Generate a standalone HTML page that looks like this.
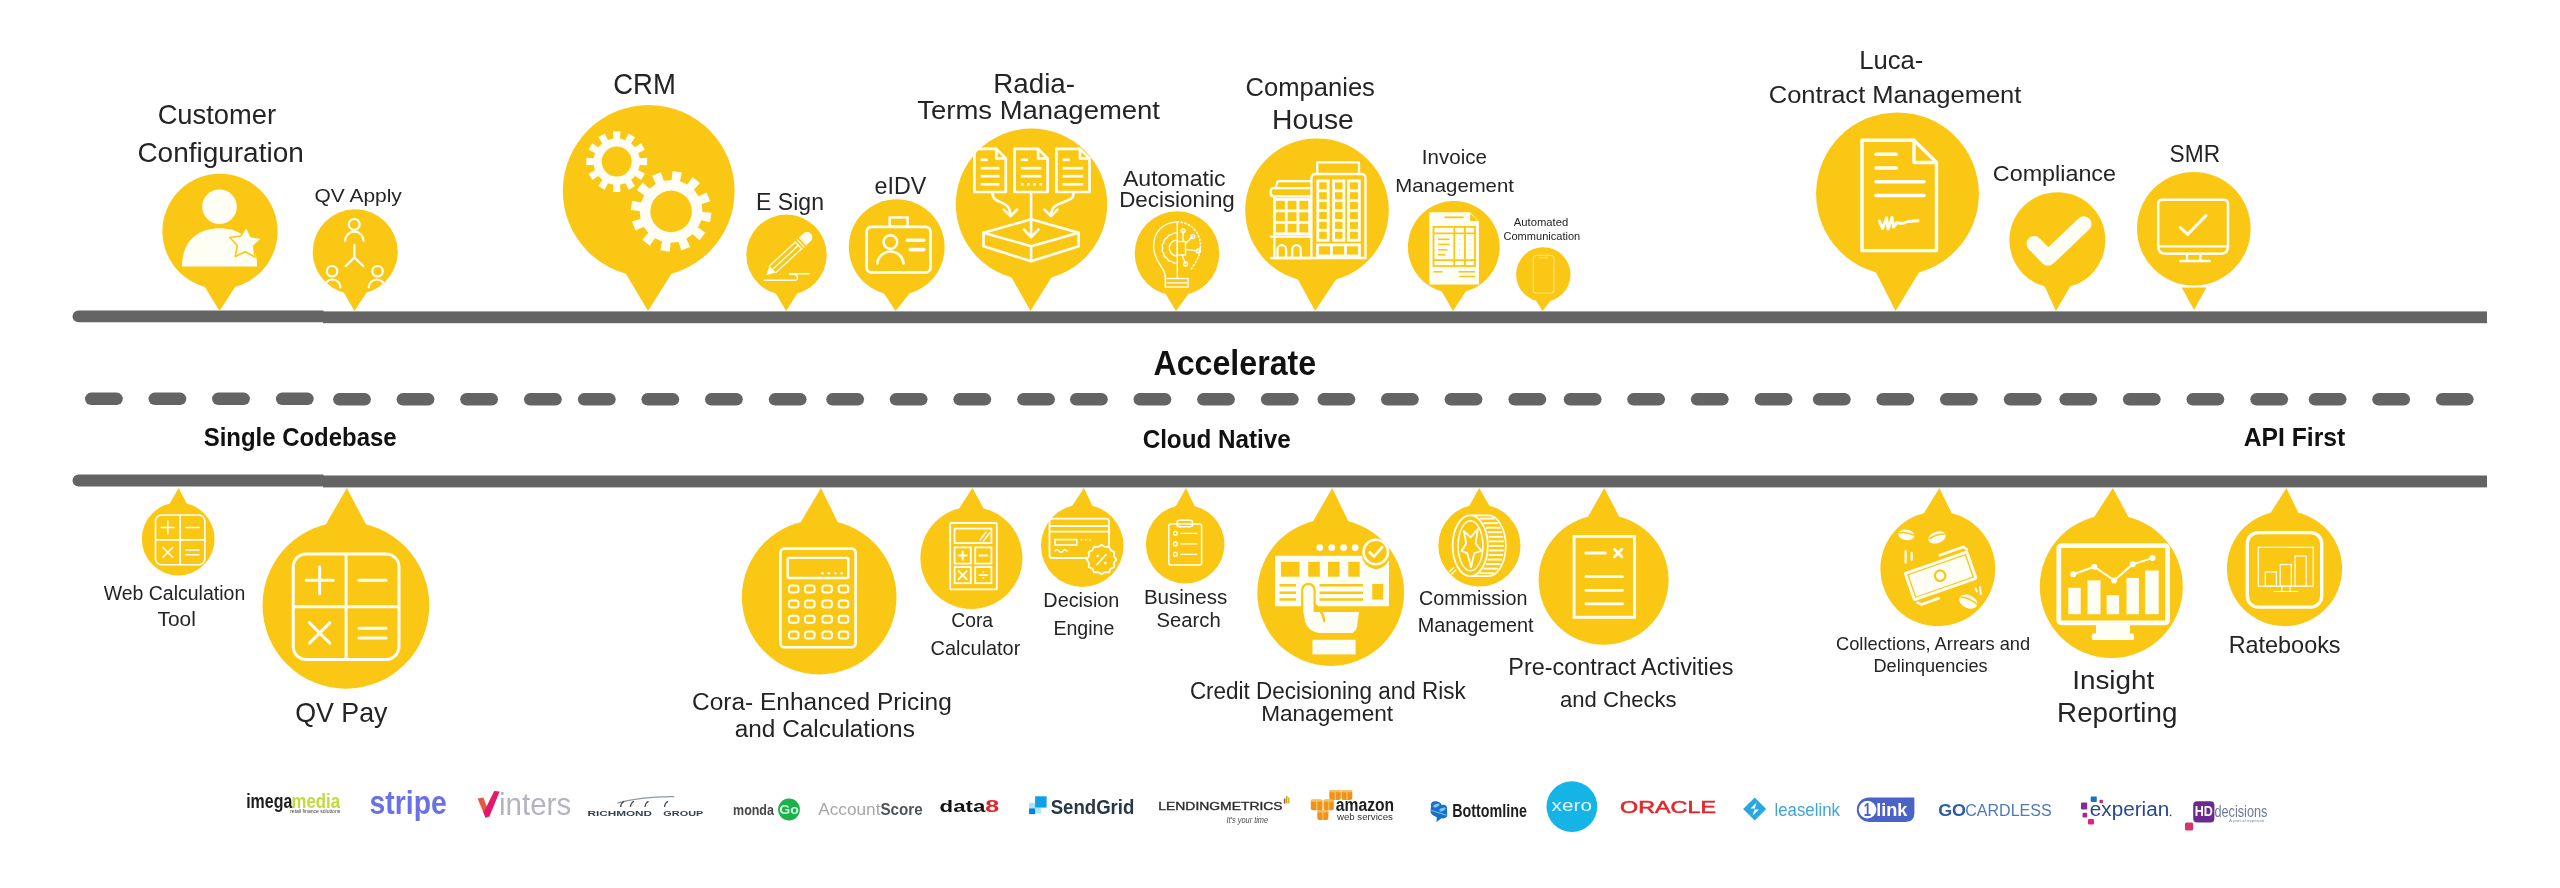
<!DOCTYPE html>
<html><head><meta charset="utf-8"><title>Accelerate roadmap</title>
<style>
html,body{margin:0;padding:0;background:#fff;}
body{width:2560px;height:888px;overflow:hidden;}
svg{display:block;font-family:"Liberation Sans",sans-serif;will-change:transform;}
</style></head><body>
<svg width="2560" height="888" viewBox="0 0 2560 888">
<rect width="2560" height="888" fill="#fff"/>
<path d="M78.40,310.50 H323.50 V322.30 H78.40 A5.90,5.90 0 0 1 78.40,310.50 Z" fill="#646464"/>
<rect x="323.00" y="311.40" width="2164.00" height="11.80" fill="#646464"/>
<path d="M78.40,474.60 H323.50 V486.40 H78.40 A5.90,5.90 0 0 1 78.40,474.60 Z" fill="#646464"/>
<rect x="323.00" y="475.50" width="2164.00" height="11.90" fill="#646464"/>
<rect x="85.00" y="392.6" width="37.8" height="12.4" rx="6.2" fill="#646464"/>
<rect x="148.50" y="392.6" width="37.8" height="12.4" rx="6.2" fill="#646464"/>
<rect x="212.10" y="392.6" width="37.8" height="12.4" rx="6.2" fill="#646464"/>
<rect x="275.90" y="392.6" width="37.8" height="12.4" rx="6.2" fill="#646464"/>
<rect x="333.10" y="393.1" width="37.8" height="12.4" rx="6.2" fill="#646464"/>
<rect x="396.60" y="393.1" width="37.8" height="12.4" rx="6.2" fill="#646464"/>
<rect x="460.20" y="393.1" width="37.8" height="12.4" rx="6.2" fill="#646464"/>
<rect x="524.00" y="393.1" width="37.8" height="12.4" rx="6.2" fill="#646464"/>
<rect x="577.90" y="393.1" width="37.8" height="12.4" rx="6.2" fill="#646464"/>
<rect x="641.40" y="393.1" width="37.8" height="12.4" rx="6.2" fill="#646464"/>
<rect x="705.00" y="393.1" width="37.8" height="12.4" rx="6.2" fill="#646464"/>
<rect x="768.80" y="393.1" width="37.8" height="12.4" rx="6.2" fill="#646464"/>
<rect x="826.25" y="393.1" width="37.8" height="12.4" rx="6.2" fill="#646464"/>
<rect x="889.75" y="393.1" width="37.8" height="12.4" rx="6.2" fill="#646464"/>
<rect x="953.35" y="393.1" width="37.8" height="12.4" rx="6.2" fill="#646464"/>
<rect x="1017.15" y="393.1" width="37.8" height="12.4" rx="6.2" fill="#646464"/>
<rect x="1070.00" y="393.1" width="37.8" height="12.4" rx="6.2" fill="#646464"/>
<rect x="1133.50" y="393.1" width="37.8" height="12.4" rx="6.2" fill="#646464"/>
<rect x="1197.10" y="393.1" width="37.8" height="12.4" rx="6.2" fill="#646464"/>
<rect x="1260.90" y="393.1" width="37.8" height="12.4" rx="6.2" fill="#646464"/>
<rect x="1317.50" y="393.1" width="37.8" height="12.4" rx="6.2" fill="#646464"/>
<rect x="1381.00" y="393.1" width="37.8" height="12.4" rx="6.2" fill="#646464"/>
<rect x="1444.60" y="393.1" width="37.8" height="12.4" rx="6.2" fill="#646464"/>
<rect x="1508.40" y="393.1" width="37.8" height="12.4" rx="6.2" fill="#646464"/>
<rect x="1563.75" y="393.1" width="37.8" height="12.4" rx="6.2" fill="#646464"/>
<rect x="1627.25" y="393.1" width="37.8" height="12.4" rx="6.2" fill="#646464"/>
<rect x="1690.85" y="393.1" width="37.8" height="12.4" rx="6.2" fill="#646464"/>
<rect x="1754.65" y="393.1" width="37.8" height="12.4" rx="6.2" fill="#646464"/>
<rect x="1812.90" y="393.1" width="37.8" height="12.4" rx="6.2" fill="#646464"/>
<rect x="1876.40" y="393.1" width="37.8" height="12.4" rx="6.2" fill="#646464"/>
<rect x="1940.00" y="393.1" width="37.8" height="12.4" rx="6.2" fill="#646464"/>
<rect x="2003.80" y="393.1" width="37.8" height="12.4" rx="6.2" fill="#646464"/>
<rect x="2059.40" y="393.1" width="37.8" height="12.4" rx="6.2" fill="#646464"/>
<rect x="2122.90" y="393.1" width="37.8" height="12.4" rx="6.2" fill="#646464"/>
<rect x="2186.50" y="393.1" width="37.8" height="12.4" rx="6.2" fill="#646464"/>
<rect x="2250.30" y="393.1" width="37.8" height="12.4" rx="6.2" fill="#646464"/>
<rect x="2308.75" y="393.1" width="37.8" height="12.4" rx="6.2" fill="#646464"/>
<rect x="2372.25" y="393.1" width="37.8" height="12.4" rx="6.2" fill="#646464"/>
<rect x="2435.85" y="393.1" width="37.8" height="12.4" rx="6.2" fill="#646464"/>
<ellipse cx="220.00" cy="231.30" rx="57.60" ry="57.60" fill="#FAC814"/>
<path d="M204.74,286.84 L219.50,311.00 L235.26,286.84 L220.00,231.30 Z" fill="#FAC814"/>
<circle cx="219.5" cy="206.7" r="17.3" fill="#FFFEF4"/><path d="M182,266.6 C182,240 199,228.3 219.5,228.3 C240,228.3 257.1,240 257.1,266.6 Z" fill="#FFFEF4"/><path d="M246.19,226.41 L250.89,236.42 L261.75,238.57 L253.68,246.14 L254.99,257.13 L245.30,251.79 L235.26,256.44 L237.33,245.57 L229.81,237.45 L240.79,236.07 Z" fill="#FFFEF4" stroke="#FAC814" stroke-width="1.6" stroke-linejoin="round"/>
<ellipse cx="355.20" cy="251.70" rx="42.50" ry="42.50" fill="#FAC814"/>
<path d="M343.94,292.68 L354.50,311.00 L366.46,292.68 L355.20,251.70 Z" fill="#FAC814"/>
<circle cx="354.2" cy="224.4" r="5.4" fill="none" stroke="#FFFEF4" stroke-width="2.2"/><path d="M345.0,241.0 A9.300000000000011,9.300000000000011 0 0 1 363.6,241.0" fill="none" stroke="#FFFEF4" stroke-width="2.2" stroke-linecap="round" stroke-linejoin="round"/><path d="M354.4,244.8 V257.5 M345.8,266 L354.4,257.5 L363.3,266" fill="none" stroke="#FFFEF4" stroke-width="2.2" stroke-linecap="round" stroke-linejoin="round"/><circle cx="332.1" cy="271.2" r="5.2" fill="none" stroke="#FFFEF4" stroke-width="2.2"/><path d="M324.4,287.5 A8.0,8.0 0 0 1 340.4,287.5" fill="none" stroke="#FFFEF4" stroke-width="2.2" stroke-linecap="round" stroke-linejoin="round"/><circle cx="377.6" cy="271.2" r="5.2" fill="none" stroke="#FFFEF4" stroke-width="2.2"/><path d="M368.8,287.5 A8.0,8.0 0 0 1 384.8,287.5" fill="none" stroke="#FFFEF4" stroke-width="2.2" stroke-linecap="round" stroke-linejoin="round"/>
<ellipse cx="648.70" cy="190.90" rx="85.90" ry="85.90" fill="#FAC814"/>
<path d="M625.94,273.73 L648.00,311.00 L671.46,273.73 L648.70,190.90 Z" fill="#FAC814"/>
<path d="M613.41,138.53 L612.94,131.23 L620.46,131.23 L619.99,138.53 L625.39,139.98 L628.63,133.42 L635.14,137.18 L631.08,143.27 L635.03,147.22 L641.12,143.16 L644.88,149.67 L638.32,152.91 L639.77,158.31 L647.07,157.84 L647.07,165.36 L639.77,164.89 L638.32,170.29 L644.88,173.53 L641.12,180.04 L635.03,175.98 L631.08,179.93 L635.14,186.02 L628.63,189.78 L625.39,183.22 L619.99,184.67 L620.46,191.97 L612.94,191.97 L613.41,184.67 L608.01,183.22 L604.77,189.78 L598.26,186.02 L602.32,179.93 L598.37,175.98 L592.28,180.04 L588.52,173.53 L595.08,170.29 L593.63,164.89 L586.33,165.36 L586.33,157.84 L593.63,158.31 L595.08,152.91 L588.52,149.67 L592.28,143.16 L598.37,147.22 L602.32,143.27 L598.26,137.18 L604.77,133.42 L608.01,139.98 Z M631.70,161.60 A15.0,15.0 0 1 0 601.70,161.60 A15.0,15.0 0 1 0 631.70,161.60 Z" fill="#FFFEF4" fill-rule="evenodd"/><path d="M671.61,180.00 L672.47,171.02 L681.86,172.46 L680.00,181.29 L687.24,184.47 L692.48,177.12 L699.89,183.06 L693.86,189.77 L698.55,196.15 L706.75,192.40 L710.20,201.25 L701.63,204.05 L702.50,211.91 L711.48,212.77 L710.04,222.16 L701.21,220.30 L698.03,227.54 L705.38,232.78 L699.44,240.19 L692.73,234.16 L686.35,238.85 L690.10,247.05 L681.25,250.50 L678.45,241.93 L670.59,242.80 L669.73,251.78 L660.34,250.34 L662.20,241.51 L654.96,238.33 L649.72,245.68 L642.31,239.74 L648.34,233.03 L643.65,226.65 L635.45,230.40 L632.00,221.55 L640.57,218.75 L639.70,210.89 L630.72,210.03 L632.16,200.64 L640.99,202.50 L644.17,195.26 L636.82,190.02 L642.76,182.61 L649.47,188.64 L655.85,183.95 L652.10,175.75 L660.95,172.30 L663.75,180.87 Z M691.90,211.40 A20.8,20.8 0 1 0 650.30,211.40 A20.8,20.8 0 1 0 691.90,211.40 Z" fill="#FFFEF4" fill-rule="evenodd"/>
<ellipse cx="786.50" cy="254.80" rx="40.20" ry="40.20" fill="#FAC814"/>
<path d="M775.85,293.56 L786.20,311.00 L797.15,293.56 L786.50,254.80 Z" fill="#FAC814"/>
<g transform="translate(766.2,275.3) rotate(-42.9)"><path d="M0,0 L9,-4.6 L9,4.6 Z" fill="#FFFEF4"/><path d="M9,-4.6 L44,-4.6 M9,4.6 L44,4.6 M10,0 L44,0" fill="none" stroke="#FFFEF4" stroke-width="1.3" stroke-linecap="round" stroke-linejoin="round"/><path d="M44,-5 L44,5 M47,-5 L47,5 M50,-5 L50,5" fill="none" stroke="#FFFEF4" stroke-width="1.3" stroke-linecap="round" stroke-linejoin="round"/><path d="M51,-5.2 L56,-5.2 A5.2,5.2 0 0 1 56,5.2 L51,5.2 Z" fill="#FFFEF4"/></g><path d="M764.5,280.2 H795.5 C798.5,280.2 798.5,274.2 793,274.2 L789.5,274.2 M789.5,273.8 H809.5" fill="none" stroke="#FFFEF4" stroke-width="1.4" stroke-linecap="round" stroke-linejoin="round"/>
<ellipse cx="896.70" cy="247.20" rx="47.90" ry="47.90" fill="#FAC814"/>
<path d="M884.01,293.39 L895.60,311.00 L909.39,293.39 L896.70,247.20 Z" fill="#FAC814"/>
<rect x="866.6" y="226.8" width="63.90" height="45.60" rx="5" fill="none" stroke="#FFFEF4" stroke-width="2.8"/><rect x="889.7" y="217.5" width="17.90" height="9.30" rx="0" fill="none" stroke="#FFFEF4" stroke-width="2.4"/><circle cx="890.4" cy="242.0" r="6.8" fill="none" stroke="#FFFEF4" stroke-width="2.5"/><path d="M877.3,263.5 A13.2,13.2 0 0 1 903.6,263.5" fill="none" stroke="#FFFEF4" stroke-width="2.6" stroke-linecap="round" stroke-linejoin="round"/><line x1="907.5" y1="240.3" x2="923.8" y2="240.3" stroke="#FFFEF4" stroke-width="3.6" stroke-linecap="round"/><line x1="910.3" y1="249.6" x2="923.8" y2="249.6" stroke="#FFFEF4" stroke-width="3.6" stroke-linecap="round"/>
<ellipse cx="1031.50" cy="204.30" rx="75.70" ry="75.70" fill="#FAC814"/>
<path d="M1011.44,277.29 L1030.50,311.00 L1051.56,277.29 L1031.50,204.30 Z" fill="#FAC814"/>
<path d="M974.4,148.9 H996.3 L1005.8,158.4 V192.0 H974.4 Z M996.3,148.9 V158.4 H1005.8" fill="none" stroke="#FFFEF4" stroke-width="2.7" stroke-linecap="round" stroke-linejoin="round"/><line x1="980.6999999999999" y1="159.8" x2="987.6999999999999" y2="159.8" stroke="#FFFEF4" stroke-width="2.7" stroke-linecap="butt"/><line x1="980.6999999999999" y1="168.2" x2="999.5" y2="168.2" stroke="#FFFEF4" stroke-width="2.7" stroke-linecap="butt"/><line x1="980.6999999999999" y1="176.2" x2="999.5" y2="176.2" stroke="#FFFEF4" stroke-width="2.7" stroke-linecap="butt"/><line x1="980.6999999999999" y1="184.3" x2="999.5" y2="184.3" stroke="#FFFEF4" stroke-width="2.7" stroke-linecap="butt"/><path d="M1014.6,148.9 H1038.1 L1047.6,158.4 V192.0 H1014.6 Z M1038.1,148.9 V158.4 H1047.6" fill="none" stroke="#FFFEF4" stroke-width="2.7" stroke-linecap="round" stroke-linejoin="round"/><line x1="1020.9" y1="159.8" x2="1027.9" y2="159.8" stroke="#FFFEF4" stroke-width="2.7" stroke-linecap="butt"/><line x1="1020.9" y1="168.2" x2="1041.3" y2="168.2" stroke="#FFFEF4" stroke-width="2.7" stroke-linecap="butt"/><line x1="1020.9" y1="176.2" x2="1041.3" y2="176.2" stroke="#FFFEF4" stroke-width="2.7" stroke-linecap="butt"/><rect x="1020.9" y="183.0" width="2.60" height="2.60" rx="0" fill="#FFFEF4"/><rect x="1027.1" y="183.0" width="2.60" height="2.60" rx="0" fill="#FFFEF4"/><rect x="1033.3" y="183.0" width="2.60" height="2.60" rx="0" fill="#FFFEF4"/><rect x="1039.5" y="183.0" width="2.60" height="2.60" rx="0" fill="#FFFEF4"/><path d="M1056.4,148.9 H1080.0 L1089.5,158.4 V192.0 H1056.4 Z M1080.0,148.9 V158.4 H1089.5" fill="none" stroke="#FFFEF4" stroke-width="2.7" stroke-linecap="round" stroke-linejoin="round"/><line x1="1062.7" y1="159.8" x2="1069.7" y2="159.8" stroke="#FFFEF4" stroke-width="2.7" stroke-linecap="butt"/><line x1="1062.7" y1="168.2" x2="1083.2" y2="168.2" stroke="#FFFEF4" stroke-width="2.7" stroke-linecap="butt"/><line x1="1062.7" y1="176.2" x2="1083.2" y2="176.2" stroke="#FFFEF4" stroke-width="2.7" stroke-linecap="butt"/><line x1="1062.7" y1="184.3" x2="1083.2" y2="184.3" stroke="#FFFEF4" stroke-width="2.7" stroke-linecap="butt"/><path d="M1031.1,192.4 V237" fill="none" stroke="#FFFEF4" stroke-width="2.6" stroke-linecap="round" stroke-linejoin="round"/><path d="M1023.8,229.5 L1031.1,237 L1038.4,229.5" fill="none" stroke="#FFFEF4" stroke-width="2.6" stroke-linecap="round" stroke-linejoin="round"/><path d="M992.4,192.4 C992.4,206 1009.8,198 1010.4,215" fill="none" stroke="#FFFEF4" stroke-width="2.6" stroke-linecap="round" stroke-linejoin="round"/><path d="M1003.9,209.7 L1010.4,216.2 L1017,209.7" fill="none" stroke="#FFFEF4" stroke-width="2.6" stroke-linecap="round" stroke-linejoin="round"/><path d="M1073.7,192.4 C1073.7,206 1051.6,198 1051.0,215" fill="none" stroke="#FFFEF4" stroke-width="2.6" stroke-linecap="round" stroke-linejoin="round"/><path d="M1044.5,209.7 L1051.0,216.2 L1057.5,209.7" fill="none" stroke="#FFFEF4" stroke-width="2.6" stroke-linecap="round" stroke-linejoin="round"/><path d="M983.5,232.7 L1031.1,219.3 L1078.7,232.7 L1031.1,246.2 Z" fill="none" stroke="#FFFEF4" stroke-width="2.6" stroke-linecap="round" stroke-linejoin="round"/><path d="M983.5,232.7 V246.2 L1031.1,261.3 L1078.7,246.2 V232.7 M1031.1,246.2 V261.3" fill="none" stroke="#FFFEF4" stroke-width="2.6" stroke-linecap="round" stroke-linejoin="round"/>
<ellipse cx="1177.00" cy="253.50" rx="42.30" ry="42.30" fill="#FAC814"/>
<path d="M1165.79,294.29 L1176.00,311.00 L1188.21,294.29 L1177.00,253.50 Z" fill="#FAC814"/>
<path d="M1176.9,221.8 C1162,222.5 1153.3,233 1153.6,247 C1153.8,258 1160,264 1163.6,270.5 C1165,273 1165.3,275 1165.3,278.5" fill="none" stroke="#FFFEF4" stroke-width="1.35" stroke-linecap="round" stroke-linejoin="round"/><path d="M1177.3,221.8 V278.5" fill="none" stroke="#FFFEF4" stroke-width="1.35" stroke-linecap="round" stroke-linejoin="round"/><rect x="1165.3" y="278.5" width="22.80" height="8.50" rx="0" fill="none" stroke="#FFFEF4" stroke-width="1.35"/><line x1="1166.5" y1="282.8" x2="1187" y2="282.8" stroke="#FFFEF4" stroke-width="1.35" stroke-linecap="butt"/><path d="M1177.30,262.50 Q1174.08,264.18 1171.75,261.40 Q1168.13,261.72 1167.05,258.25 Q1163.58,257.17 1163.90,253.55 Q1161.12,251.22 1162.80,248.00 Q1161.12,244.78 1163.90,242.45 Q1163.58,238.83 1167.05,237.75 Q1168.13,234.28 1171.75,234.60 Q1174.08,231.82 1177.30,233.50" fill="none" stroke="#FFFEF4" stroke-width="1.35" stroke-linecap="round" stroke-linejoin="round"/><path d="M1177.3,256.0 A8,8 0 0 1 1177.3,240.0" fill="none" stroke="#FFFEF4" stroke-width="1.35" stroke-linecap="round" stroke-linejoin="round"/><rect x="1177.3" y="241.5" width="8.20" height="13.50" rx="0" fill="none" stroke="#FFFEF4" stroke-width="1.35"/><line x1="1183.0" y1="230.8" x2="1183.0" y2="241.5" stroke="#FFFEF4" stroke-width="1.35" stroke-linecap="round"/><circle cx="1183.0" cy="230.8" r="2.0" fill="none" stroke="#FFFEF4" stroke-width="1.35"/><line x1="1192.8" y1="236.6" x2="1185.5" y2="243.5" stroke="#FFFEF4" stroke-width="1.35" stroke-linecap="round"/><circle cx="1192.8" cy="236.6" r="2.0" fill="none" stroke="#FFFEF4" stroke-width="1.35"/><line x1="1198.3" y1="250.9" x2="1185.5" y2="249.5" stroke="#FFFEF4" stroke-width="1.35" stroke-linecap="round"/><circle cx="1198.3" cy="250.9" r="2.0" fill="none" stroke="#FFFEF4" stroke-width="1.35"/><line x1="1185.6" y1="264.0" x2="1182.0" y2="255.0" stroke="#FFFEF4" stroke-width="1.35" stroke-linecap="round"/><circle cx="1185.6" cy="264.0" r="2.0" fill="none" stroke="#FFFEF4" stroke-width="1.35"/><path d="M1177.3,221.8 C1192,222.5 1200.6,233 1200.4,247 C1200.2,258 1194,264 1190.4,270.5" fill="none" stroke="#FFFEF4" stroke-width="1.6" stroke-linecap="round" stroke-linejoin="round" stroke-dasharray="1.2 2.6"/>
<ellipse cx="1317.00" cy="210.20" rx="71.80" ry="71.80" fill="#FAC814"/>
<path d="M1297.97,279.43 L1315.10,311.00 L1336.03,279.43 L1317.00,210.20 Z" fill="#FAC814"/>
<path d="M1311.4,258 V178.5 Q1311.4,174 1315.5,174 H1361.4 Q1365.5,174 1365.5,178.5 V258" fill="none" stroke="#FFFEF4" stroke-width="2.3" stroke-linecap="round" stroke-linejoin="round"/><path d="M1317.2,174 V162.3 H1359 V174" fill="none" stroke="#FFFEF4" stroke-width="2.3" stroke-linecap="round" stroke-linejoin="round"/><rect x="1317.8" y="180.9" width="10.40" height="59.30" rx="0" fill="none" stroke="#FFFEF4" stroke-width="2.8"/><line x1="1317.8" y1="190.78333333333333" x2="1328.2" y2="190.78333333333333" stroke="#FFFEF4" stroke-width="2.8" stroke-linecap="butt"/><line x1="1317.8" y1="200.66666666666666" x2="1328.2" y2="200.66666666666666" stroke="#FFFEF4" stroke-width="2.8" stroke-linecap="butt"/><line x1="1317.8" y1="210.55" x2="1328.2" y2="210.55" stroke="#FFFEF4" stroke-width="2.8" stroke-linecap="butt"/><line x1="1317.8" y1="220.43333333333334" x2="1328.2" y2="220.43333333333334" stroke="#FFFEF4" stroke-width="2.8" stroke-linecap="butt"/><line x1="1317.8" y1="230.31666666666666" x2="1328.2" y2="230.31666666666666" stroke="#FFFEF4" stroke-width="2.8" stroke-linecap="butt"/><rect x="1333.6" y="180.9" width="10.30" height="59.30" rx="0" fill="none" stroke="#FFFEF4" stroke-width="2.8"/><line x1="1333.6" y1="190.78333333333333" x2="1343.9" y2="190.78333333333333" stroke="#FFFEF4" stroke-width="2.8" stroke-linecap="butt"/><line x1="1333.6" y1="200.66666666666666" x2="1343.9" y2="200.66666666666666" stroke="#FFFEF4" stroke-width="2.8" stroke-linecap="butt"/><line x1="1333.6" y1="210.55" x2="1343.9" y2="210.55" stroke="#FFFEF4" stroke-width="2.8" stroke-linecap="butt"/><line x1="1333.6" y1="220.43333333333334" x2="1343.9" y2="220.43333333333334" stroke="#FFFEF4" stroke-width="2.8" stroke-linecap="butt"/><line x1="1333.6" y1="230.31666666666666" x2="1343.9" y2="230.31666666666666" stroke="#FFFEF4" stroke-width="2.8" stroke-linecap="butt"/><rect x="1348.5" y="180.9" width="10.80" height="59.30" rx="0" fill="none" stroke="#FFFEF4" stroke-width="2.8"/><line x1="1348.5" y1="190.78333333333333" x2="1359.3" y2="190.78333333333333" stroke="#FFFEF4" stroke-width="2.8" stroke-linecap="butt"/><line x1="1348.5" y1="200.66666666666666" x2="1359.3" y2="200.66666666666666" stroke="#FFFEF4" stroke-width="2.8" stroke-linecap="butt"/><line x1="1348.5" y1="210.55" x2="1359.3" y2="210.55" stroke="#FFFEF4" stroke-width="2.8" stroke-linecap="butt"/><line x1="1348.5" y1="220.43333333333334" x2="1359.3" y2="220.43333333333334" stroke="#FFFEF4" stroke-width="2.8" stroke-linecap="butt"/><line x1="1348.5" y1="230.31666666666666" x2="1359.3" y2="230.31666666666666" stroke="#FFFEF4" stroke-width="2.8" stroke-linecap="butt"/><rect x="1317.5" y="244.9" width="41.90" height="11.10" rx="0" fill="none" stroke="#FFFEF4" stroke-width="2.8"/><line x1="1331.4" y1="244.9" x2="1331.4" y2="256.0" stroke="#FFFEF4" stroke-width="2.8" stroke-linecap="butt"/><line x1="1345.5" y1="244.9" x2="1345.5" y2="256.0" stroke="#FFFEF4" stroke-width="2.8" stroke-linecap="butt"/><path d="M1311.2,188.2 H1273.2 Q1270.6,188.2 1270.6,192.3 Q1270.6,196.4 1273.2,196.4 H1311.2" fill="none" stroke="#FFFEF4" stroke-width="2.3" stroke-linecap="round" stroke-linejoin="round"/><path d="M1275.5,188.2 L1277.8,181.1 H1311.2" fill="none" stroke="#FFFEF4" stroke-width="2.3" stroke-linecap="round" stroke-linejoin="round"/><path d="M1274.4,196.4 V258 H1311.2" fill="none" stroke="#FFFEF4" stroke-width="2.3" stroke-linecap="round" stroke-linejoin="round"/><rect x="1274.6" y="199.4" width="35.00" height="34.40" rx="0" fill="none" stroke="#FFFEF4" stroke-width="2.8"/><line x1="1274.6" y1="210.86666666666667" x2="1309.6" y2="210.86666666666667" stroke="#FFFEF4" stroke-width="2.8" stroke-linecap="butt"/><line x1="1286.2666666666667" y1="199.4" x2="1286.2666666666667" y2="233.8" stroke="#FFFEF4" stroke-width="2.8" stroke-linecap="butt"/><line x1="1274.6" y1="222.33333333333334" x2="1309.6" y2="222.33333333333334" stroke="#FFFEF4" stroke-width="2.8" stroke-linecap="butt"/><line x1="1297.9333333333332" y1="199.4" x2="1297.9333333333332" y2="233.8" stroke="#FFFEF4" stroke-width="2.8" stroke-linecap="butt"/><line x1="1271" y1="236.6" x2="1311.2" y2="236.6" stroke="#FFFEF4" stroke-width="2.3" stroke-linecap="round"/><path d="M1277.5,258 V249.5 A4.3,4.3 0 0 1 1286.1,249.5 V258" fill="none" stroke="#FFFEF4" stroke-width="2.3" stroke-linecap="round" stroke-linejoin="round"/><path d="M1292.2,258 V249.5 A4.3,4.3 0 0 1 1300.8,249.5 V258" fill="none" stroke="#FFFEF4" stroke-width="2.3" stroke-linecap="round" stroke-linejoin="round"/><line x1="1271" y1="258" x2="1365.5" y2="258" stroke="#FFFEF4" stroke-width="2.3" stroke-linecap="round"/>
<ellipse cx="1453.80" cy="247.00" rx="45.90" ry="45.90" fill="#FAC814"/>
<path d="M1441.64,291.26 L1453.00,311.00 L1465.96,291.26 L1453.80,247.00 Z" fill="#FAC814"/>
<path d="M1429.3,212.3 H1470.2 L1478.9,221.2 V284.4 H1429.3 Z" fill="#FFFEF4"/><path d="M1470.2,213.2 V221 H1478 Z" fill="#FAC814"/><line x1="1444.4" y1="217.3" x2="1463.7" y2="217.3" stroke="#FAC814" stroke-width="1.8" stroke-linecap="butt"/><rect x="1433.5" y="226.9" width="41.5" height="39.1" fill="none" stroke="#FAC814" stroke-width="1.8"/><line x1="1433.5" y1="233.4" x2="1475" y2="233.4" stroke="#FAC814" stroke-width="1.8" stroke-linecap="butt"/><line x1="1433.5" y1="260.2" x2="1475" y2="260.2" stroke="#FAC814" stroke-width="1.8" stroke-linecap="butt"/><line x1="1454.3" y1="226.9" x2="1454.3" y2="266" stroke="#FAC814" stroke-width="1.8" stroke-linecap="butt"/><line x1="1464.9" y1="226.9" x2="1464.9" y2="266" stroke="#FAC814" stroke-width="1.8" stroke-linecap="butt"/><line x1="1438.1" y1="239.3" x2="1449.6" y2="239.3" stroke="#FAC814" stroke-width="1.6" stroke-linecap="butt"/><line x1="1459.4" y1="239.3" x2="1459.9" y2="239.3" stroke="#FAC814" stroke-width="1.6" stroke-linecap="butt"/><line x1="1469.8" y1="239.3" x2="1470.3" y2="239.3" stroke="#FAC814" stroke-width="1.6" stroke-linecap="butt"/><line x1="1438.1" y1="244.4" x2="1449.6" y2="244.4" stroke="#FAC814" stroke-width="1.6" stroke-linecap="butt"/><line x1="1459.4" y1="244.4" x2="1459.9" y2="244.4" stroke="#FAC814" stroke-width="1.6" stroke-linecap="butt"/><line x1="1469.8" y1="244.4" x2="1470.3" y2="244.4" stroke="#FAC814" stroke-width="1.6" stroke-linecap="butt"/><line x1="1438.1" y1="249.8" x2="1447.6" y2="249.8" stroke="#FAC814" stroke-width="1.6" stroke-linecap="butt"/><line x1="1459.4" y1="249.8" x2="1459.9" y2="249.8" stroke="#FAC814" stroke-width="1.6" stroke-linecap="butt"/><line x1="1469.8" y1="249.8" x2="1470.3" y2="249.8" stroke="#FAC814" stroke-width="1.6" stroke-linecap="butt"/><line x1="1438.1" y1="254.8" x2="1445.5" y2="254.8" stroke="#FAC814" stroke-width="1.6" stroke-linecap="butt"/><line x1="1459.4" y1="254.8" x2="1459.9" y2="254.8" stroke="#FAC814" stroke-width="1.6" stroke-linecap="butt"/><line x1="1469.8" y1="254.8" x2="1470.3" y2="254.8" stroke="#FAC814" stroke-width="1.6" stroke-linecap="butt"/><line x1="1433.5" y1="271.8" x2="1442.5" y2="271.8" stroke="#FAC814" stroke-width="1.6" stroke-linecap="butt"/><line x1="1458.6" y1="271.8" x2="1475" y2="271.8" stroke="#FAC814" stroke-width="1.6" stroke-linecap="butt"/><line x1="1459.5" y1="276.5" x2="1475" y2="276.5" stroke="#FAC814" stroke-width="1.6" stroke-linecap="butt"/>
<ellipse cx="1543.30" cy="274.50" rx="27.20" ry="27.20" fill="#FAC814"/>
<path d="M1536.09,300.73 L1542.60,311.00 L1550.51,300.73 L1543.30,274.50 Z" fill="#FAC814"/>
<g opacity="0.55"><rect x="1533.3" y="255.3" width="20.70" height="37.90" rx="3" fill="none" stroke="#FFFEF4" stroke-width="1.0"/><line x1="1539.5" y1="257.8" x2="1547.8" y2="257.8" stroke="#FFFEF4" stroke-width="1.0" stroke-linecap="round"/></g>
<ellipse cx="1897.50" cy="193.80" rx="81.40" ry="81.40" fill="#FAC814"/>
<path d="M1875.93,272.29 L1895.60,311.00 L1919.07,272.29 L1897.50,193.80 Z" fill="#FAC814"/>
<path d="M1862,140.2 H1914 L1936.5,162.5 V250.6 H1862 Z" fill="none" stroke="#FFFEF4" stroke-width="3.4" stroke-linecap="round" stroke-linejoin="round"/><path d="M1914,140.2 V162.5 H1936.5" fill="none" stroke="#FFFEF4" stroke-width="3.4" stroke-linecap="round" stroke-linejoin="round"/><line x1="1876.0" y1="154.2" x2="1896.3" y2="154.2" stroke="#FFFEF4" stroke-width="3.6" stroke-linecap="round"/><line x1="1876.0" y1="168.0" x2="1896.3" y2="168.0" stroke="#FFFEF4" stroke-width="3.6" stroke-linecap="round"/><line x1="1876.0" y1="181.8" x2="1924.0" y2="181.8" stroke="#FFFEF4" stroke-width="3.6" stroke-linecap="round"/><line x1="1876.0" y1="195.5" x2="1924.0" y2="195.5" stroke="#FFFEF4" stroke-width="3.6" stroke-linecap="round"/><path d="M1879.5,221 L1882.5,228.5 L1886.5,218 L1888,229 L1892,217.5 L1893.5,227 L1897,222.5 C1900,224 1905,223 1908,221.5 L1918,220.8" fill="none" stroke="#FFFEF4" stroke-width="3.0" stroke-linecap="round" stroke-linejoin="round"/>
<ellipse cx="2057.40" cy="240.20" rx="48.00" ry="48.00" fill="#FAC814"/>
<path d="M2044.68,286.48 L2056.00,311.00 L2070.12,286.48 L2057.40,240.20 Z" fill="#FAC814"/>
<path d="M2034.2,243.8 L2048.1,258.0 L2083.8,224.0" fill="none" stroke="#FFFEF4" stroke-width="15.4" stroke-linecap="round" stroke-linejoin="round"/>
<circle cx="2193.8" cy="228.7" r="56.8" fill="#FAC814"/>
<path d="M2181.7,287.6 L2194,310 L2206.4,287.6 Z" fill="#FAC814"/>
<ellipse cx="178.20" cy="539.00" rx="36.40" ry="36.40" fill="#FAC814"/>
<path d="M169.46,503.66 L178.70,488.00 L186.94,503.66 L178.20,539.00 Z" fill="#FAC814"/>
<rect x="155.5" y="515.0" width="49.30" height="49.80" rx="6" fill="none" stroke="#FFFEF4" stroke-width="1.6"/><line x1="180.15" y1="515.0" x2="180.15" y2="564.8" stroke="#FFFEF4" stroke-width="1.6" stroke-linecap="butt"/><line x1="155.5" y1="539.9" x2="204.8" y2="539.9" stroke="#FFFEF4" stroke-width="1.6" stroke-linecap="butt"/><path d="M161.325,527.45 H174.325 M167.825,520.95 V533.95" fill="none" stroke="#FFFEF4" stroke-width="1.6" stroke-linecap="round" stroke-linejoin="round"/><path d="M185.97500000000002,527.45 H198.97500000000002" fill="none" stroke="#FFFEF4" stroke-width="1.6" stroke-linecap="round" stroke-linejoin="round"/><path d="M162.95,547.4749999999999 L172.7,557.2249999999999 M162.95,557.2249999999999 L172.7,547.4749999999999" fill="none" stroke="#FFFEF4" stroke-width="1.6" stroke-linecap="round" stroke-linejoin="round"/><path d="M185.97500000000002,550.0099999999999 H198.97500000000002 M185.97500000000002,554.6899999999999 H198.97500000000002" fill="none" stroke="#FFFEF4" stroke-width="1.6" stroke-linecap="round" stroke-linejoin="round"/>
<ellipse cx="345.90" cy="605.30" rx="83.40" ry="83.40" fill="#FAC814"/>
<path d="M325.88,524.34 L346.80,488.00 L365.92,524.34 L345.90,605.30 Z" fill="#FAC814"/>
<rect x="293.2" y="553.9" width="105.80" height="105.50" rx="13" fill="none" stroke="#FFFEF4" stroke-width="3.0"/><line x1="346.1" y1="553.9" x2="346.1" y2="659.4" stroke="#FFFEF4" stroke-width="3.0" stroke-linecap="butt"/><line x1="293.2" y1="606.65" x2="399.0" y2="606.65" stroke="#FFFEF4" stroke-width="3.0" stroke-linecap="butt"/><path d="M306.15,580.275 H333.15 M319.65,566.775 V593.775" fill="none" stroke="#FFFEF4" stroke-width="3.0" stroke-linecap="round" stroke-linejoin="round"/><path d="M359.05,580.275 H386.05" fill="none" stroke="#FFFEF4" stroke-width="3.0" stroke-linecap="round" stroke-linejoin="round"/><path d="M309.525,622.9 L329.775,643.15 M309.525,643.15 L329.775,622.9" fill="none" stroke="#FFFEF4" stroke-width="3.0" stroke-linecap="round" stroke-linejoin="round"/><path d="M359.05,628.165 H386.05 M359.05,637.885 H386.05" fill="none" stroke="#FFFEF4" stroke-width="3.0" stroke-linecap="round" stroke-linejoin="round"/>
<ellipse cx="819.20" cy="597.20" rx="77.30" ry="77.30" fill="#FAC814"/>
<path d="M800.65,522.16 L821.00,488.00 L837.75,522.16 L819.20,597.20 Z" fill="#FAC814"/>
<rect x="780.4" y="548.6" width="75.20" height="98.60" rx="4" fill="none" stroke="#FFFEF4" stroke-width="2.6"/><rect x="787.7" y="557.9" width="60.60" height="20.10" rx="1" fill="none" stroke="#FFFEF4" stroke-width="2.4"/><circle cx="822.5" cy="573.2" r="1.3" fill="#FFFEF4"/><circle cx="828.9" cy="573.2" r="1.3" fill="#FFFEF4"/><circle cx="835.3" cy="573.2" r="1.3" fill="#FFFEF4"/><circle cx="841.7" cy="573.2" r="1.3" fill="#FFFEF4"/><rect x="788.9000000000001" y="585.5" width="9.60" height="7.00" rx="2.5" fill="none" stroke="#FFFEF4" stroke-width="2.0"/><rect x="805.0" y="585.5" width="9.60" height="7.00" rx="2.5" fill="none" stroke="#FFFEF4" stroke-width="2.0"/><rect x="822.3000000000001" y="585.5" width="9.60" height="7.00" rx="2.5" fill="none" stroke="#FFFEF4" stroke-width="2.0"/><rect x="838.7" y="585.5" width="9.60" height="7.00" rx="2.5" fill="none" stroke="#FFFEF4" stroke-width="2.0"/><rect x="788.9000000000001" y="600.4" width="9.60" height="7.00" rx="2.5" fill="none" stroke="#FFFEF4" stroke-width="2.0"/><rect x="805.0" y="600.4" width="9.60" height="7.00" rx="2.5" fill="none" stroke="#FFFEF4" stroke-width="2.0"/><rect x="822.3000000000001" y="600.4" width="9.60" height="7.00" rx="2.5" fill="none" stroke="#FFFEF4" stroke-width="2.0"/><rect x="838.7" y="600.4" width="9.60" height="7.00" rx="2.5" fill="none" stroke="#FFFEF4" stroke-width="2.0"/><rect x="788.9000000000001" y="615.8" width="9.60" height="7.00" rx="2.5" fill="none" stroke="#FFFEF4" stroke-width="2.0"/><rect x="805.0" y="615.8" width="9.60" height="7.00" rx="2.5" fill="none" stroke="#FFFEF4" stroke-width="2.0"/><rect x="822.3000000000001" y="615.8" width="9.60" height="7.00" rx="2.5" fill="none" stroke="#FFFEF4" stroke-width="2.0"/><rect x="838.7" y="615.8" width="9.60" height="7.00" rx="2.5" fill="none" stroke="#FFFEF4" stroke-width="2.0"/><rect x="788.9000000000001" y="631.4" width="9.60" height="7.00" rx="2.5" fill="none" stroke="#FFFEF4" stroke-width="2.0"/><rect x="805.0" y="631.4" width="9.60" height="7.00" rx="2.5" fill="none" stroke="#FFFEF4" stroke-width="2.0"/><rect x="822.3000000000001" y="631.4" width="9.60" height="7.00" rx="2.5" fill="none" stroke="#FFFEF4" stroke-width="2.0"/><rect x="838.7" y="631.4" width="9.60" height="7.00" rx="2.5" fill="none" stroke="#FFFEF4" stroke-width="2.0"/>
<ellipse cx="971.40" cy="557.90" rx="51.00" ry="51.00" fill="#FAC814"/>
<path d="M959.16,508.39 L972.40,488.00 L983.64,508.39 L971.40,557.90 Z" fill="#FAC814"/>
<rect x="950.2" y="523.0" width="46.60" height="66.40" rx="1" fill="none" stroke="#FFFEF4" stroke-width="1.8"/><rect x="954.6" y="528.6" width="36.80" height="14.40" rx="0" fill="none" stroke="#FFFEF4" stroke-width="1.8"/><path d="M980,540 L986,532 M983.5,541 L989.5,533" fill="none" stroke="#FFFEF4" stroke-width="1.4" stroke-linecap="round" stroke-linejoin="round"/><rect x="954.6" y="547.4" width="16.20" height="16.20" rx="0" fill="none" stroke="#FFFEF4" stroke-width="1.8"/><path d="M958.7,555.5 H966.7 M962.7,551.5 V559.5" fill="none" stroke="#FFFEF4" stroke-width="2.0" stroke-linecap="round" stroke-linejoin="round"/><rect x="975.2" y="547.4" width="16.20" height="16.20" rx="0" fill="none" stroke="#FFFEF4" stroke-width="1.8"/><path d="M979.3000000000001,555.5 H987.3000000000001" fill="none" stroke="#FFFEF4" stroke-width="2.0" stroke-linecap="round" stroke-linejoin="round"/><rect x="954.6" y="567.0" width="16.20" height="16.20" rx="0" fill="none" stroke="#FFFEF4" stroke-width="1.8"/><path d="M958.7,571.1 L966.7,579.1 M958.7,579.1 L966.7,571.1" fill="none" stroke="#FFFEF4" stroke-width="2.0" stroke-linecap="round" stroke-linejoin="round"/><rect x="975.2" y="567.0" width="16.20" height="16.20" rx="0" fill="none" stroke="#FFFEF4" stroke-width="1.8"/><path d="M979.3000000000001,575.1 H987.3000000000001" fill="none" stroke="#FFFEF4" stroke-width="1.6" stroke-linecap="round" stroke-linejoin="round"/><circle cx="983.3000000000001" cy="572.1" r="1.0" fill="#FFFEF4"/><circle cx="983.3000000000001" cy="578.1" r="1.0" fill="#FFFEF4"/>
<ellipse cx="1082.30" cy="545.70" rx="41.30" ry="41.30" fill="#FAC814"/>
<path d="M1072.39,505.61 L1083.90,488.00 L1092.21,505.61 L1082.30,545.70 Z" fill="#FAC814"/>
<path d="M1097,558 H1052.5 Q1049.5,558 1049.5,555 V521.5 Q1049.5,518.6 1052.5,518.6 H1106 Q1109,518.6 1109,521.5 V545" fill="none" stroke="#FFFEF4" stroke-width="1.8" stroke-linecap="round" stroke-linejoin="round"/><line x1="1049.5" y1="526.0" x2="1109" y2="526.0" stroke="#FFFEF4" stroke-width="1.8" stroke-linecap="butt"/><line x1="1049.5" y1="531.6" x2="1109" y2="531.6" stroke="#FFFEF4" stroke-width="1.8" stroke-linecap="butt"/><rect x="1055.0" y="539.6" width="21.80" height="5.40" rx="0" fill="none" stroke="#FFFEF4" stroke-width="1.6"/><circle cx="1081.5" cy="539.8" r="0.9" fill="#FFFEF4"/><circle cx="1085.8" cy="539.8" r="0.9" fill="#FFFEF4"/><circle cx="1090.1" cy="539.8" r="0.9" fill="#FFFEF4"/><path d="M1055,551 q2,-2.5 4,0 t4,0 t4,0" fill="none" stroke="#FFFEF4" stroke-width="1.5" stroke-linecap="round" stroke-linejoin="round"/><path d="M1116.30,559.50 L1114.06,562.86 L1114.32,566.90 L1110.69,568.69 L1108.90,572.32 L1104.86,572.06 L1101.50,574.30 L1098.14,572.06 L1094.10,572.32 L1092.31,568.69 L1088.68,566.90 L1088.94,562.86 L1086.70,559.50 L1088.94,556.14 L1088.68,552.10 L1092.31,550.31 L1094.10,546.68 L1098.14,546.94 L1101.50,544.70 L1104.86,546.94 L1108.90,546.68 L1110.69,550.31 L1114.32,552.10 L1114.06,556.14 Z" fill="#FAC814" stroke="#FFFEF4" stroke-width="1.8" stroke-linejoin="round"/><path d="M1097.0,564.5 L1106.0,554.5" fill="none" stroke="#FFFEF4" stroke-width="1.6" stroke-linecap="round" stroke-linejoin="round"/><circle cx="1097.7" cy="556.0" r="1.3" fill="#FFFEF4"/><circle cx="1105.3" cy="563.0" r="1.3" fill="#FFFEF4"/>
<ellipse cx="1185.20" cy="544.30" rx="39.30" ry="39.30" fill="#FAC814"/>
<path d="M1175.77,506.15 L1186.00,488.00 L1194.63,506.15 L1185.20,544.30 Z" fill="#FAC814"/>
<rect x="1168.8" y="524.0" width="32.80" height="41.00" rx="2" fill="none" stroke="#FFFEF4" stroke-width="1.5"/><rect x="1177" y="520.2" width="15.60" height="6.60" rx="2.5" fill="none" stroke="#FFFEF4" stroke-width="1.5"/><circle cx="1175.4" cy="533.3" r="1.9" fill="none" stroke="#FFFEF4" stroke-width="1.3"/><line x1="1180.8" y1="533.3" x2="1196.8" y2="533.3" stroke="#FFFEF4" stroke-width="1.3" stroke-linecap="round"/><circle cx="1175.4" cy="543.9" r="1.9" fill="none" stroke="#FFFEF4" stroke-width="1.3"/><line x1="1180.8" y1="543.9" x2="1196.8" y2="543.9" stroke="#FFFEF4" stroke-width="1.3" stroke-linecap="round"/><circle cx="1175.4" cy="554.3" r="1.9" fill="none" stroke="#FFFEF4" stroke-width="1.3"/><line x1="1180.8" y1="554.3" x2="1196.8" y2="554.3" stroke="#FFFEF4" stroke-width="1.3" stroke-linecap="round"/>
<ellipse cx="1330.70" cy="592.50" rx="73.40" ry="73.40" fill="#FAC814"/>
<path d="M1313.08,521.25 L1332.20,488.00 L1348.32,521.25 L1330.70,592.50 Z" fill="#FAC814"/>
<circle cx="1319.8" cy="547.6" r="3.4" fill="#FFFEF4"/><circle cx="1331.7" cy="547.6" r="3.4" fill="#FFFEF4"/><circle cx="1343.6" cy="547.6" r="3.4" fill="#FFFEF4"/><circle cx="1355.2" cy="547.6" r="3.4" fill="#FFFEF4"/><circle cx="1375.8" cy="552.0" r="13.5" fill="#FAC814"/><circle cx="1375.8" cy="552.0" r="12.2" fill="none" stroke="#FFFEF4" stroke-width="2.6"/><path d="M1369.8,552.5 L1374,556.5 L1382.2,547.2" fill="none" stroke="#FFFEF4" stroke-width="2.6" stroke-linecap="round" stroke-linejoin="round"/><path d="M1275,555.7 H1362 A14,14 0 0 0 1389,560 V606.3 H1275 Z" fill="#FFFEF4"/><rect x="1280.9" y="561.8" width="18.60" height="14.90" rx="0" fill="#FAC814"/><rect x="1308.2" y="561.8" width="11.60" height="14.90" rx="0" fill="#FAC814"/><rect x="1328.0" y="561.8" width="11.60" height="14.90" rx="0" fill="#FAC814"/><rect x="1348.3" y="561.8" width="11.40" height="14.90" rx="0" fill="#FAC814"/><line x1="1279.5" y1="585.3" x2="1296" y2="585.3" stroke="#FAC814" stroke-width="2.5" stroke-linecap="butt"/><line x1="1319.5" y1="585.3" x2="1363" y2="585.3" stroke="#FAC814" stroke-width="2.5" stroke-linecap="butt"/><line x1="1279.5" y1="592.7" x2="1296" y2="592.7" stroke="#FAC814" stroke-width="2.5" stroke-linecap="butt"/><line x1="1319.5" y1="592.7" x2="1363" y2="592.7" stroke="#FAC814" stroke-width="2.5" stroke-linecap="butt"/><line x1="1279.5" y1="599.4" x2="1296" y2="599.4" stroke="#FAC814" stroke-width="2.5" stroke-linecap="butt"/><line x1="1319.5" y1="599.4" x2="1363" y2="599.4" stroke="#FAC814" stroke-width="2.5" stroke-linecap="butt"/><rect x="1372.2" y="584.0" width="11.00" height="15.60" rx="0" fill="#FAC814"/><path d="M1302.2,611.5 V590 A6.2,6.2 0 0 1 1314.6,590 V603.5 L1314.6,611 H1360.3 L1358,627 C1357,631 1355,633.5 1352,634 H1319 C1312,633.5 1306,629 1304,622 Z" fill="#FFFEF4" stroke="#FAC814" stroke-width="2.2" stroke-linejoin="round"/><path d="M1314.6,606 C1317,609 1322,612 1323,620" fill="none" stroke="#FFFEF4" stroke-width="0" stroke-linecap="round" stroke-linejoin="round"/><path d="M1314.8,604.5 C1318,608 1323.5,612 1324.2,621" fill="none" stroke="#FAC814" stroke-width="2.4" stroke-linecap="round"/><rect x="1312.5" y="639.8" width="43.10" height="14.60" rx="0" fill="#FFFEF4"/>
<ellipse cx="1479.40" cy="545.50" rx="41.10" ry="41.10" fill="#FAC814"/>
<path d="M1469.54,505.60 L1479.20,488.00 L1489.26,505.60 L1479.40,545.50 Z" fill="#FAC814"/>
<path d="M1470.2,515.4 L1488.2,515.4 A17.6,30.4 0 0 1 1488.2,576.1999999999999 L1470.2,576.1999999999999" fill="none" stroke="#FFFEF4" stroke-width="1.7" stroke-linecap="round" stroke-linejoin="round"/><line x1="1479.66" y1="518.6" x2="1494.26" y2="518.6" stroke="#FFFEF4" stroke-width="1.9" stroke-linecap="butt"/><line x1="1483.54" y1="523.15" x2="1498.14" y2="523.15" stroke="#FFFEF4" stroke-width="1.9" stroke-linecap="butt"/><line x1="1485.94" y1="527.7" x2="1500.54" y2="527.7" stroke="#FFFEF4" stroke-width="1.9" stroke-linecap="butt"/><line x1="1487.56" y1="532.25" x2="1502.16" y2="532.25" stroke="#FFFEF4" stroke-width="1.9" stroke-linecap="butt"/><line x1="1488.61" y1="536.8" x2="1503.21" y2="536.8" stroke="#FFFEF4" stroke-width="1.9" stroke-linecap="butt"/><line x1="1489.21" y1="541.35" x2="1503.81" y2="541.35" stroke="#FFFEF4" stroke-width="1.9" stroke-linecap="butt"/><line x1="1489.4" y1="545.9" x2="1504.0" y2="545.9" stroke="#FFFEF4" stroke-width="1.9" stroke-linecap="butt"/><line x1="1489.19" y1="550.45" x2="1503.79" y2="550.45" stroke="#FFFEF4" stroke-width="1.9" stroke-linecap="butt"/><line x1="1488.57" y1="555.0" x2="1503.17" y2="555.0" stroke="#FFFEF4" stroke-width="1.9" stroke-linecap="butt"/><line x1="1487.5" y1="559.55" x2="1502.1" y2="559.55" stroke="#FFFEF4" stroke-width="1.9" stroke-linecap="butt"/><line x1="1485.85" y1="564.1" x2="1500.45" y2="564.1" stroke="#FFFEF4" stroke-width="1.9" stroke-linecap="butt"/><line x1="1483.41" y1="568.65" x2="1498.01" y2="568.65" stroke="#FFFEF4" stroke-width="1.9" stroke-linecap="butt"/><line x1="1479.42" y1="573.2" x2="1494.02" y2="573.2" stroke="#FFFEF4" stroke-width="1.9" stroke-linecap="butt"/><ellipse cx="1470.2" cy="545.8" rx="17.6" ry="30.4" fill="#FAC814" stroke="#FFFEF4" stroke-width="1.8"/><ellipse cx="1470.5" cy="545.8" rx="12.4" ry="25.0" fill="none" stroke="#FFFEF4" stroke-width="1.5"/><path d="M1463.9,531.2 L1470.6,537.4 L1477.8,529.0 L1475.6,543.5 L1481.4,551.0 L1474.2,553.2 L1471.1,567.2 L1467.4,553.4 L1461.6,551.0 L1466.2,543.5 Z" fill="none" stroke="#FFFEF4" stroke-width="1.8" stroke-linecap="round" stroke-linejoin="round"/><path d="M1449.8,571.5 L1453.4,567.6 M1451.5,574.2 L1455.6,570.2" fill="none" stroke="#FFFEF4" stroke-width="1.3" stroke-linecap="round" stroke-linejoin="round"/>
<ellipse cx="1603.60" cy="579.80" rx="65.00" ry="65.00" fill="#FAC814"/>
<path d="M1588.00,516.70 L1604.30,488.00 L1619.20,516.70 L1603.60,579.80 Z" fill="#FAC814"/>
<rect x="1574.1" y="536.5" width="60.40" height="80.80" rx="0" fill="none" stroke="#FFFEF4" stroke-width="2.9"/><line x1="1586" y1="553.1" x2="1605.4" y2="553.1" stroke="#FFFEF4" stroke-width="3.0" stroke-linecap="round"/><path d="M1614.5,549.3 L1621.8,556.8 M1614.5,556.8 L1621.8,549.3" fill="none" stroke="#FFFEF4" stroke-width="2.8" stroke-linecap="round" stroke-linejoin="round"/><line x1="1586" y1="576.7" x2="1622.6" y2="576.7" stroke="#FFFEF4" stroke-width="2.8" stroke-linecap="round"/><line x1="1586" y1="590.3" x2="1622.6" y2="590.3" stroke="#FFFEF4" stroke-width="2.8" stroke-linecap="round"/><line x1="1586" y1="603.9" x2="1622.6" y2="603.9" stroke="#FFFEF4" stroke-width="2.8" stroke-linecap="round"/>
<ellipse cx="1937.80" cy="568.80" rx="57.40" ry="57.40" fill="#FAC814"/>
<path d="M1924.02,513.08 L1939.40,488.00 L1951.58,513.08 L1937.80,568.80 Z" fill="#FAC814"/>
<g transform="translate(1940.6,575.9) rotate(-19.3)"><path d="M6,-19.8 H31 L33.5,-16.2" fill="none" stroke="#FFFEF4" stroke-width="2.6" stroke-linecap="round" stroke-linejoin="round"/><path d="M-30.5,17.6 L-27.5,20.6 H-9" fill="none" stroke="#FFFEF4" stroke-width="2.6" stroke-linecap="round" stroke-linejoin="round"/><rect x="-32.6" y="-13.9" width="65.20" height="27.80" rx="1" fill="none" stroke="#FFFEF4" stroke-width="2.9"/><rect x="-29.8" y="-11.3" width="59.60" height="22.60" rx="0" fill="#FFFEF4"/><circle cx="-0.4" cy="-0.4" r="5.2" fill="none" stroke="#FAC814" stroke-width="2.3"/></g><ellipse cx="1906.3" cy="534.9" rx="8.2" ry="5.2" transform="rotate(8 1906.3 534.9)" fill="#FFFEF4"/><path d="M1898.51,534.12 Q1906.3,531.52 1914.09,534.12" transform="rotate(8 1906.3 534.9)" fill="none" stroke="#FAC814" stroke-width="1.5"/><ellipse cx="1937.0" cy="537.4" rx="9.0" ry="5.8" transform="rotate(-18 1937.0 537.4)" fill="#FFFEF4"/><path d="M1928.45,536.53 Q1937.0,533.63 1945.55,536.53" transform="rotate(-18 1937.0 537.4)" fill="none" stroke="#FAC814" stroke-width="1.5"/><ellipse cx="1968.3" cy="601.6" rx="9.6" ry="6.4" transform="rotate(24 1968.3 601.6)" fill="#FFFEF4"/><path d="M1959.18,600.64 Q1968.3,597.44 1977.4199999999998,600.64" transform="rotate(24 1968.3 601.6)" fill="none" stroke="#FAC814" stroke-width="1.5"/><path d="M1905.6,551.0 V562.6 M1911.7,553.0 V559.8" fill="none" stroke="#FFFEF4" stroke-width="2.2" stroke-linecap="round" stroke-linejoin="round"/><path d="M1975.6,588.5 L1976.8,591.5 M1980.0,587.0 L1980.8,594.0" fill="none" stroke="#FFFEF4" stroke-width="2.0" stroke-linecap="round" stroke-linejoin="round"/>
<ellipse cx="2111.30" cy="586.50" rx="71.50" ry="71.50" fill="#FAC814"/>
<path d="M2094.14,517.09 L2112.90,488.00 L2128.46,517.09 L2111.30,586.50 Z" fill="#FAC814"/>
<rect x="2058.8" y="545.6" width="108.80" height="77.20" rx="2.5" fill="none" stroke="#FFFEF4" stroke-width="4.8"/><rect x="2096.0" y="622" width="34.00" height="13.20" rx="0" fill="#FFFEF4"/><rect x="2091.8" y="633.5" width="42.20" height="6.50" rx="1.5" fill="#FFFEF4"/><rect x="2068.3" y="587.8" width="12.40" height="26.40" rx="0" fill="#FFFEF4"/><rect x="2087.6" y="580.4" width="12.90" height="33.80" rx="0" fill="#FFFEF4"/><rect x="2106.7" y="595.2" width="12.40" height="19.00" rx="0" fill="#FFFEF4"/><rect x="2126.5" y="577.9" width="12.40" height="36.30" rx="0" fill="#FFFEF4"/><rect x="2145.1" y="570.5" width="13.60" height="43.70" rx="0" fill="#FFFEF4"/><path d="M2073.2,574.2 L2094.3,566.7 L2114.1,580.4 L2132.7,564.3 L2152.5,558.1" fill="none" stroke="#FFFEF4" stroke-width="2.0" stroke-linecap="round" stroke-linejoin="round"/><circle cx="2073.2" cy="574.2" r="3.0" fill="#FFFEF4"/><circle cx="2094.3" cy="566.7" r="3.0" fill="#FFFEF4"/><circle cx="2114.1" cy="580.4" r="3.0" fill="#FFFEF4"/><circle cx="2132.7" cy="564.3" r="3.0" fill="#FFFEF4"/><circle cx="2152.5" cy="558.1" r="3.0" fill="#FFFEF4"/>
<ellipse cx="2284.50" cy="568.60" rx="57.60" ry="57.60" fill="#FAC814"/>
<path d="M2270.68,512.68 L2286.40,488.00 L2298.32,512.68 L2284.50,568.60 Z" fill="#FAC814"/>
<rect x="2247.3" y="532.6" width="74.40" height="74.50" rx="11" fill="none" stroke="#FFFEF4" stroke-width="3.4"/><rect x="2258.3" y="547.3" width="54.90" height="38.90" rx="0" fill="none" stroke="#FFFEF4" stroke-width="1.2"/><rect x="2265.3" y="572.0" width="11.10" height="14.20" rx="0" fill="none" stroke="#FFFEF4" stroke-width="1.2"/><rect x="2280.2" y="564.5" width="11.10" height="21.70" rx="0" fill="none" stroke="#FFFEF4" stroke-width="1.2"/><rect x="2295.0" y="556.0" width="11.20" height="30.20" rx="0" fill="none" stroke="#FFFEF4" stroke-width="1.2"/><line x1="2282" y1="586.2" x2="2282" y2="591" stroke="#FFFEF4" stroke-width="1.2" stroke-linecap="round"/><line x1="2290" y1="586.2" x2="2290" y2="591" stroke="#FFFEF4" stroke-width="1.2" stroke-linecap="round"/><line x1="2274" y1="591.5" x2="2298" y2="591.5" stroke="#FFFEF4" stroke-width="1.2" stroke-linecap="round"/>
<path d="M2158.2,246.3 V204 Q2158.2,199.8 2162.8,199.8 H2223.3 Q2228,199.8 2228,204 V246.3 Q2228,253.7 2221,253.7 H2165.2 Q2158.2,253.7 2158.2,246.3 Z" fill="none" stroke="#FFFEF4" stroke-width="2.5" stroke-linecap="round" stroke-linejoin="round"/><line x1="2158.2" y1="246.4" x2="2228" y2="246.4" stroke="#FFFEF4" stroke-width="2.3" stroke-linecap="butt"/><path d="M2187,254 V260 M2200.5,254 V260" fill="none" stroke="#FFFEF4" stroke-width="2.3" stroke-linecap="round" stroke-linejoin="round"/><line x1="2180.5" y1="261.0" x2="2209.5" y2="261.0" stroke="#FFFEF4" stroke-width="2.6" stroke-linecap="round"/><path d="M2180.2,227.5 L2187.6,234.4 L2205.9,215.6" fill="none" stroke="#FFFEF4" stroke-width="3.0" stroke-linecap="round" stroke-linejoin="round"/>
<text x="157.63" y="124.00" font-size="27.35" font-weight="normal" fill="#242424" textLength="118.36" lengthAdjust="spacingAndGlyphs">Customer</text>
<text x="137.40" y="162.00" font-size="27.93" font-weight="normal" fill="#242424" textLength="166.37" lengthAdjust="spacingAndGlyphs">Configuration</text>
<text x="314.51" y="202.00" font-size="18.62" font-weight="normal" fill="#242424" textLength="87.33" lengthAdjust="spacingAndGlyphs">QV Apply</text>
<text x="613.23" y="93.75" font-size="28.65" font-weight="normal" fill="#242424" textLength="62.54" lengthAdjust="spacingAndGlyphs">CRM</text>
<text x="993.31" y="92.75" font-size="26.76" font-weight="normal" fill="#242424" textLength="81.64" lengthAdjust="spacingAndGlyphs">Radia-</text>
<text x="917.38" y="118.75" font-size="26.33" font-weight="normal" fill="#242424" textLength="242.56" lengthAdjust="spacingAndGlyphs">Terms Management</text>
<text x="756.10" y="209.75" font-size="23.64" font-weight="normal" fill="#242424" textLength="67.87" lengthAdjust="spacingAndGlyphs">E Sign</text>
<text x="874.61" y="194.40" font-size="23.85" font-weight="normal" fill="#242424" textLength="51.77" lengthAdjust="spacingAndGlyphs">eIDV</text>
<text x="1122.94" y="185.75" font-size="22.69" font-weight="normal" fill="#242424" textLength="102.67" lengthAdjust="spacingAndGlyphs">Automatic</text>
<text x="1119.15" y="207.00" font-size="21.53" font-weight="normal" fill="#242424" textLength="115.69" lengthAdjust="spacingAndGlyphs">Decisioning</text>
<text x="1245.62" y="96.25" font-size="26.47" font-weight="normal" fill="#242424" textLength="129.29" lengthAdjust="spacingAndGlyphs">Companies</text>
<text x="1272.07" y="128.60" font-size="27.64" font-weight="normal" fill="#242424" textLength="81.65" lengthAdjust="spacingAndGlyphs">House</text>
<text x="1421.85" y="164.30" font-size="19.93" font-weight="normal" fill="#242424" textLength="65.04" lengthAdjust="spacingAndGlyphs">Invoice</text>
<text x="1395.22" y="191.90" font-size="18.91" font-weight="normal" fill="#242424" textLength="118.67" lengthAdjust="spacingAndGlyphs">Management</text>
<text x="1513.72" y="226.00" font-size="10.91" font-weight="normal" fill="#242424" textLength="54.50" lengthAdjust="spacingAndGlyphs">Automated</text>
<text x="1503.45" y="240.00" font-size="10.91" font-weight="normal" fill="#242424" textLength="76.84" lengthAdjust="spacingAndGlyphs">Communication</text>
<text x="1859.13" y="68.75" font-size="25.45" font-weight="normal" fill="#242424" textLength="64.25" lengthAdjust="spacingAndGlyphs">Luca-</text>
<text x="1768.72" y="102.50" font-size="24.58" font-weight="normal" fill="#242424" textLength="252.70" lengthAdjust="spacingAndGlyphs">Contract Management</text>
<text x="1992.83" y="181.25" font-size="21.82" font-weight="normal" fill="#242424" textLength="123.17" lengthAdjust="spacingAndGlyphs">Compliance</text>
<text x="2169.58" y="161.90" font-size="23.13" font-weight="normal" fill="#242424" textLength="50.49" lengthAdjust="spacingAndGlyphs">SMR</text>
<text x="103.65" y="599.90" font-size="20.00" font-weight="normal" fill="#242424" textLength="141.58" lengthAdjust="spacingAndGlyphs">Web Calculation</text>
<text x="157.53" y="626.25" font-size="20.22" font-weight="normal" fill="#242424" textLength="38.27" lengthAdjust="spacingAndGlyphs">Tool</text>
<text x="295.13" y="721.60" font-size="27.64" font-weight="normal" fill="#242424" textLength="92.36" lengthAdjust="spacingAndGlyphs">QV Pay</text>
<text x="692.08" y="710.10" font-size="24.73" font-weight="normal" fill="#242424" textLength="259.70" lengthAdjust="spacingAndGlyphs">Cora- Enhanced Pricing</text>
<text x="734.77" y="737.40" font-size="23.27" font-weight="normal" fill="#242424" textLength="180.06" lengthAdjust="spacingAndGlyphs">and Calculations</text>
<text x="951.29" y="627.25" font-size="20.51" font-weight="normal" fill="#242424" textLength="41.77" lengthAdjust="spacingAndGlyphs">Cora</text>
<text x="930.50" y="655.00" font-size="20.36" font-weight="normal" fill="#242424" textLength="89.79" lengthAdjust="spacingAndGlyphs">Calculator</text>
<text x="1043.37" y="607.25" font-size="19.64" font-weight="normal" fill="#242424" textLength="75.97" lengthAdjust="spacingAndGlyphs">Decision</text>
<text x="1053.38" y="635.00" font-size="20.00" font-weight="normal" fill="#242424" textLength="60.97" lengthAdjust="spacingAndGlyphs">Engine</text>
<text x="1143.91" y="603.50" font-size="20.51" font-weight="normal" fill="#242424" textLength="83.32" lengthAdjust="spacingAndGlyphs">Business</text>
<text x="1156.59" y="627.25" font-size="21.09" font-weight="normal" fill="#242424" textLength="64.10" lengthAdjust="spacingAndGlyphs">Search</text>
<text x="1189.88" y="699.40" font-size="23.13" font-weight="normal" fill="#242424" textLength="275.75" lengthAdjust="spacingAndGlyphs">Credit Decisioning and Risk</text>
<text x="1261.13" y="720.60" font-size="22.69" font-weight="normal" fill="#242424" textLength="132.03" lengthAdjust="spacingAndGlyphs">Management</text>
<text x="1418.91" y="604.90" font-size="20.36" font-weight="normal" fill="#242424" textLength="108.54" lengthAdjust="spacingAndGlyphs">Commission</text>
<text x="1417.66" y="632.40" font-size="19.49" font-weight="normal" fill="#242424" textLength="115.88" lengthAdjust="spacingAndGlyphs">Management</text>
<text x="1508.37" y="675.40" font-size="23.56" font-weight="normal" fill="#242424" textLength="225.14" lengthAdjust="spacingAndGlyphs">Pre-contract Activities</text>
<text x="1560.06" y="706.60" font-size="22.55" font-weight="normal" fill="#242424" textLength="116.53" lengthAdjust="spacingAndGlyphs">and Checks</text>
<text x="1835.99" y="650.00" font-size="18.91" font-weight="normal" fill="#242424" textLength="194.19" lengthAdjust="spacingAndGlyphs">Collections, Arrears and</text>
<text x="1873.50" y="671.60" font-size="18.47" font-weight="normal" fill="#242424" textLength="114.12" lengthAdjust="spacingAndGlyphs">Delinquencies</text>
<text x="2072.17" y="688.75" font-size="26.33" font-weight="normal" fill="#242424" textLength="82.07" lengthAdjust="spacingAndGlyphs">Insight</text>
<text x="2057.11" y="721.90" font-size="26.76" font-weight="normal" fill="#242424" textLength="120.25" lengthAdjust="spacingAndGlyphs">Reporting</text>
<text x="2228.67" y="652.75" font-size="24.00" font-weight="normal" fill="#242424" textLength="111.92" lengthAdjust="spacingAndGlyphs">Ratebooks</text>
<text x="1153.50" y="374.70" font-size="34.62" font-weight="bold" fill="#111111" textLength="162.60" lengthAdjust="spacingAndGlyphs">Accelerate</text>
<text x="203.68" y="445.90" font-size="25.60" font-weight="bold" fill="#111111" textLength="192.91" lengthAdjust="spacingAndGlyphs">Single Codebase</text>
<text x="1142.63" y="447.50" font-size="26.04" font-weight="bold" fill="#111111" textLength="148.21" lengthAdjust="spacingAndGlyphs">Cloud Native</text>
<text x="2243.78" y="446.10" font-size="25.45" font-weight="bold" fill="#111111" textLength="101.51" lengthAdjust="spacingAndGlyphs">API First</text>
<text x="246.18" y="807.50" font-size="19.59" font-weight="bold" fill="#1c1c1c" textLength="46.10" lengthAdjust="spacingAndGlyphs">imega</text>
<text x="291.51" y="807.50" font-size="19.59" font-weight="bold" fill="#C3DA3C" textLength="48.47" lengthAdjust="spacingAndGlyphs">media</text>
<text x="290.17" y="813.00" font-size="4.97" font-weight="normal" fill="#3a3a3a" textLength="50.11" lengthAdjust="spacingAndGlyphs">retail finance solutions</text>
<text x="369.61" y="814.40" font-size="32.69" font-weight="bold" fill="#6A70E6" textLength="77.13" lengthAdjust="spacingAndGlyphs">stripe</text>
<path d="M477.6,798.6 L483.4,797.6 L489.6,814.2 L485.6,817.8 Z" fill="#E8573F"/>
<path d="M494.2,790.9 L499.7,791.6 L489.4,816.6 L485.6,817.8 L483.6,812.5 Z" fill="#E2186C"/>
<text x="499.01" y="815.20" font-size="31.03" font-weight="normal" fill="#B3B3C1" textLength="72.14" lengthAdjust="spacingAndGlyphs">inters</text>
<text x="587.41" y="816.20" font-size="6.45" font-weight="bold" fill="#34404F" textLength="64.69" lengthAdjust="spacingAndGlyphs">RICHMOND</text>
<text x="663.36" y="816.20" font-size="6.45" font-weight="bold" fill="#34404F" textLength="39.91" lengthAdjust="spacingAndGlyphs">GROUP</text>
<path d="M617.5,803.2 Q640,796.3 674.3,796.6" fill="none" stroke="#8E99A8" stroke-width="1.3"/>
<path d="M620.6,807 Q620.9,803 624.1,801.3" fill="none" stroke="#3E4A58" stroke-width="1.3"/>
<path d="M630.4,807 Q630.7,803 633.9,801.3" fill="none" stroke="#3E4A58" stroke-width="1.3"/>
<path d="M645.0,807 Q645.3,803 648.5,801.3" fill="none" stroke="#3E4A58" stroke-width="1.3"/>
<path d="M664.5,807 Q664.8,803 668.0,801.3" fill="none" stroke="#3E4A58" stroke-width="1.3"/>
<text x="733.09" y="814.50" font-size="15.31" font-weight="bold" fill="#474747" textLength="40.82" lengthAdjust="spacingAndGlyphs">monda</text>
<circle cx="789.0" cy="809.5" r="10.9" fill="#1EB04C"/>
<text x="779.24" y="814.00" font-size="12.90" font-weight="bold" fill="#C9FFD9" textLength="19.61" lengthAdjust="spacingAndGlyphs">Go</text>
<text x="818.26" y="814.50" font-size="16.15" font-weight="normal" fill="#A6A6A6" textLength="62.19" lengthAdjust="spacingAndGlyphs">Account</text>
<text x="880.44" y="814.50" font-size="15.91" font-weight="bold" fill="#4D555A" textLength="42.18" lengthAdjust="spacingAndGlyphs">Score</text>
<text x="939.61" y="812.30" font-size="16.14" font-weight="bold" fill="#121212" textLength="45.65" lengthAdjust="spacingAndGlyphs">data</text>
<text x="985.18" y="812.30" font-size="15.91" font-weight="bold" fill="#E3242B" textLength="14.00" lengthAdjust="spacingAndGlyphs">8</text>
<rect x="1029.1" y="802.8" width="6.0" height="5.8" fill="#A6E6F8"/>
<rect x="1035.0" y="807.6" width="5.9" height="6.0" fill="#A6E6F8"/>
<rect x="1035.1" y="796.3" width="11.5" height="11.3" fill="#0FA0E8"/>
<rect x="1029.1" y="808.4" width="5.9" height="5.8" fill="#0A7FE0"/>
<text x="1050.64" y="813.90" font-size="20.41" font-weight="bold" fill="#263746" textLength="83.78" lengthAdjust="spacingAndGlyphs">SendGrid</text>
<text x="1158.35" y="809.50" font-size="10.90" font-weight="normal" fill="#2E2E2E" textLength="124.28" lengthAdjust="spacingAndGlyphs" stroke="#2E2E2E" stroke-width="0.35">LENDINGMETRICS</text>
<rect x="1283.8" y="798.5" width="1.6" height="5" fill="#D9412B"/>
<rect x="1285.9" y="796.0" width="1.6" height="7.5" fill="#8DBB3A"/>
<rect x="1288.0" y="797.5" width="1.6" height="6" fill="#E6B42C"/>
<text x="1226.51" y="823.00" font-size="9.93" font-weight="normal" font-style="italic" fill="#4a4a4a" textLength="41.57" lengthAdjust="spacingAndGlyphs">It's your time</text>
<rect x="1329.3" y="790.0" width="11.5" height="9.9" rx="2" fill="#EE931C"/><rect x="1329.3" y="790.0" width="11.5" height="2.2" rx="1.5" fill="#F7BF5E"/><rect x="1334.6" y="790.0" width="1.2" height="9.9" fill="#F8C862"/>
<rect x="1341.4" y="790.0" width="10.9" height="9.9" rx="2" fill="#EE931C"/><rect x="1341.4" y="790.0" width="10.9" height="2.2" rx="1.5" fill="#F7BF5E"/><rect x="1346.4" y="790.0" width="1.1" height="9.9" fill="#F8C862"/>
<rect x="1310.8" y="799.4" width="11.7" height="10.8" rx="2" fill="#EE931C"/><rect x="1310.8" y="799.4" width="11.7" height="2.4" rx="1.5" fill="#F7BF5E"/><rect x="1316.2" y="799.4" width="1.2" height="10.8" fill="#F8C862"/>
<rect x="1323.6" y="799.4" width="10.2" height="10.8" rx="2" fill="#EE931C"/><rect x="1323.6" y="799.4" width="10.2" height="2.4" rx="1.5" fill="#F7BF5E"/><rect x="1328.3" y="799.4" width="1.0" height="10.8" fill="#F8C862"/>
<rect x="1317.3" y="810.2" width="11.1" height="9.9" rx="2" fill="#EE931C"/><rect x="1317.3" y="810.2" width="11.1" height="2.2" rx="1.5" fill="#F7BF5E"/><rect x="1322.4" y="810.2" width="1.1" height="9.9" fill="#F8C862"/>
<text x="1335.83" y="810.70" font-size="18.05" font-weight="bold" fill="#1E1E1E" textLength="58.32" lengthAdjust="spacingAndGlyphs">amazon</text>
<text x="1336.92" y="819.80" font-size="9.93" font-weight="normal" fill="#333333" textLength="56.01" lengthAdjust="spacingAndGlyphs">web services</text>
<path d="M1431,806 C1430,801.5 1434.5,800.5 1437.5,801.5 C1440.5,802.5 1441.5,804 1441.5,805 C1444,804 1447.5,805 1447,809 L1447.3,815.5 C1447.3,817.5 1444,818.8 1441.5,818.3 L1436.5,822 L1436.8,817.2 C1433,815.5 1430.5,813.8 1430.5,811 Z" fill="#1B70C5"/>
<ellipse cx="1436.5" cy="805.5" rx="3.3" ry="1.5" transform="rotate(-20 1436.5 805.5)" fill="#7CC7FF"/>
<ellipse cx="1442.5" cy="809.5" rx="3.3" ry="1.5" transform="rotate(-20 1442.5 809.5)" fill="#7CC7FF"/>
<path d="M1430.8,810.3 L1446.6,815.2" stroke="#6FB8F5" stroke-width="1.1"/>
<text x="1452.23" y="816.80" font-size="18.62" font-weight="bold" fill="#1E1E1E" textLength="74.66" lengthAdjust="spacingAndGlyphs">Bottomline</text>
<circle cx="1571.9" cy="806.6" r="25.4" fill="#14B4E6"/>
<text x="1551.64" y="811.40" font-size="17.12" font-weight="normal" fill="#E6F9FF" textLength="40.40" lengthAdjust="spacingAndGlyphs">xero</text>
<text x="1620.14" y="813.10" font-size="16.99" font-weight="normal" fill="#E0282E" textLength="95.84" lengthAdjust="spacingAndGlyphs" stroke="#E0282E" stroke-width="0.6">ORACLE</text>
<path d="M1754.7,797.5 L1766.2,809.0 L1754.7,820.6 L1743.1,809.0 Z" fill="#29A8E0"/>
<path d="M1756.5,802.5 L1750.5,808.5 L1755,808.5 L1752.5,815.5 L1759,809.5 L1754.5,809.5 Z" fill="#FFFFFF"/>
<text x="1774.46" y="815.60" font-size="18.07" font-weight="normal" fill="#3AA6DA" textLength="65.52" lengthAdjust="spacingAndGlyphs">leaselink</text>
<path d="M1869,797.5 H1914.4 V813 Q1914.4,821.9 1905.5,821.9 H1869 A12.2,12.2 0 0 1 1869,797.5 Z" fill="#4B62C6"/>
<circle cx="1867.5" cy="809.6" r="8.8" fill="#FFFFFF"/>
<text x="1863.69" y="815.60" font-size="18.04" font-weight="bold" fill="#4B62C6" textLength="7.18" lengthAdjust="spacingAndGlyphs">1</text>
<text x="1876.23" y="815.60" font-size="18.90" font-weight="bold" fill="#FFFFFF" textLength="31.23" lengthAdjust="spacingAndGlyphs">link</text>
<text x="1938.18" y="815.50" font-size="16.63" font-weight="bold" fill="#2D5BA8" textLength="27.89" lengthAdjust="spacingAndGlyphs">GO</text>
<text x="1965.20" y="815.50" font-size="16.63" font-weight="normal" fill="#4F7AB9" textLength="86.54" lengthAdjust="spacingAndGlyphs">CARDLESS</text>
<rect x="2090.7" y="796.4" width="6.1" height="5.5" rx="1" fill="#1E72BA"/>
<rect x="2099.5" y="799.8" width="3.5" height="3.4" rx="0.8" fill="#C8307F"/>
<rect x="2081.0" y="802.6" width="6.2" height="6.8" rx="1" fill="#8A2A8E"/>
<rect x="2082.5" y="812.8" width="4.7" height="4.8" rx="1" fill="#B02492"/>
<rect x="2088.0" y="819.0" width="6.0" height="5.4" rx="1" fill="#E2247E"/>
<text x="2089.82" y="816.20" font-size="19.31" font-weight="normal" fill="#27488E" textLength="79.40" lengthAdjust="spacingAndGlyphs">experian</text>
<circle cx="2170.6" cy="815.3" r="0.9" fill="#27488E"/>
<rect x="2185.0" y="822.4" width="8.2" height="8.2" rx="1.5" fill="#D63470"/>
<rect x="2193.2" y="801.2" width="21.2" height="21.2" rx="4" fill="#6D2A8E"/>
<text x="2194.65" y="816.00" font-size="14.84" font-weight="bold" fill="#FFFFFF" textLength="18.18" lengthAdjust="spacingAndGlyphs">HD</text>
<text x="2214.46" y="816.90" font-size="16.97" font-weight="normal" fill="#6C7B9A" textLength="52.97" lengthAdjust="spacingAndGlyphs">decisions</text>
<text x="2228.99" y="822.00" font-size="3.45" font-weight="normal" fill="#7F8CA8" textLength="35.30" lengthAdjust="spacingAndGlyphs">A part of experian</text>
</svg>
</body></html>
